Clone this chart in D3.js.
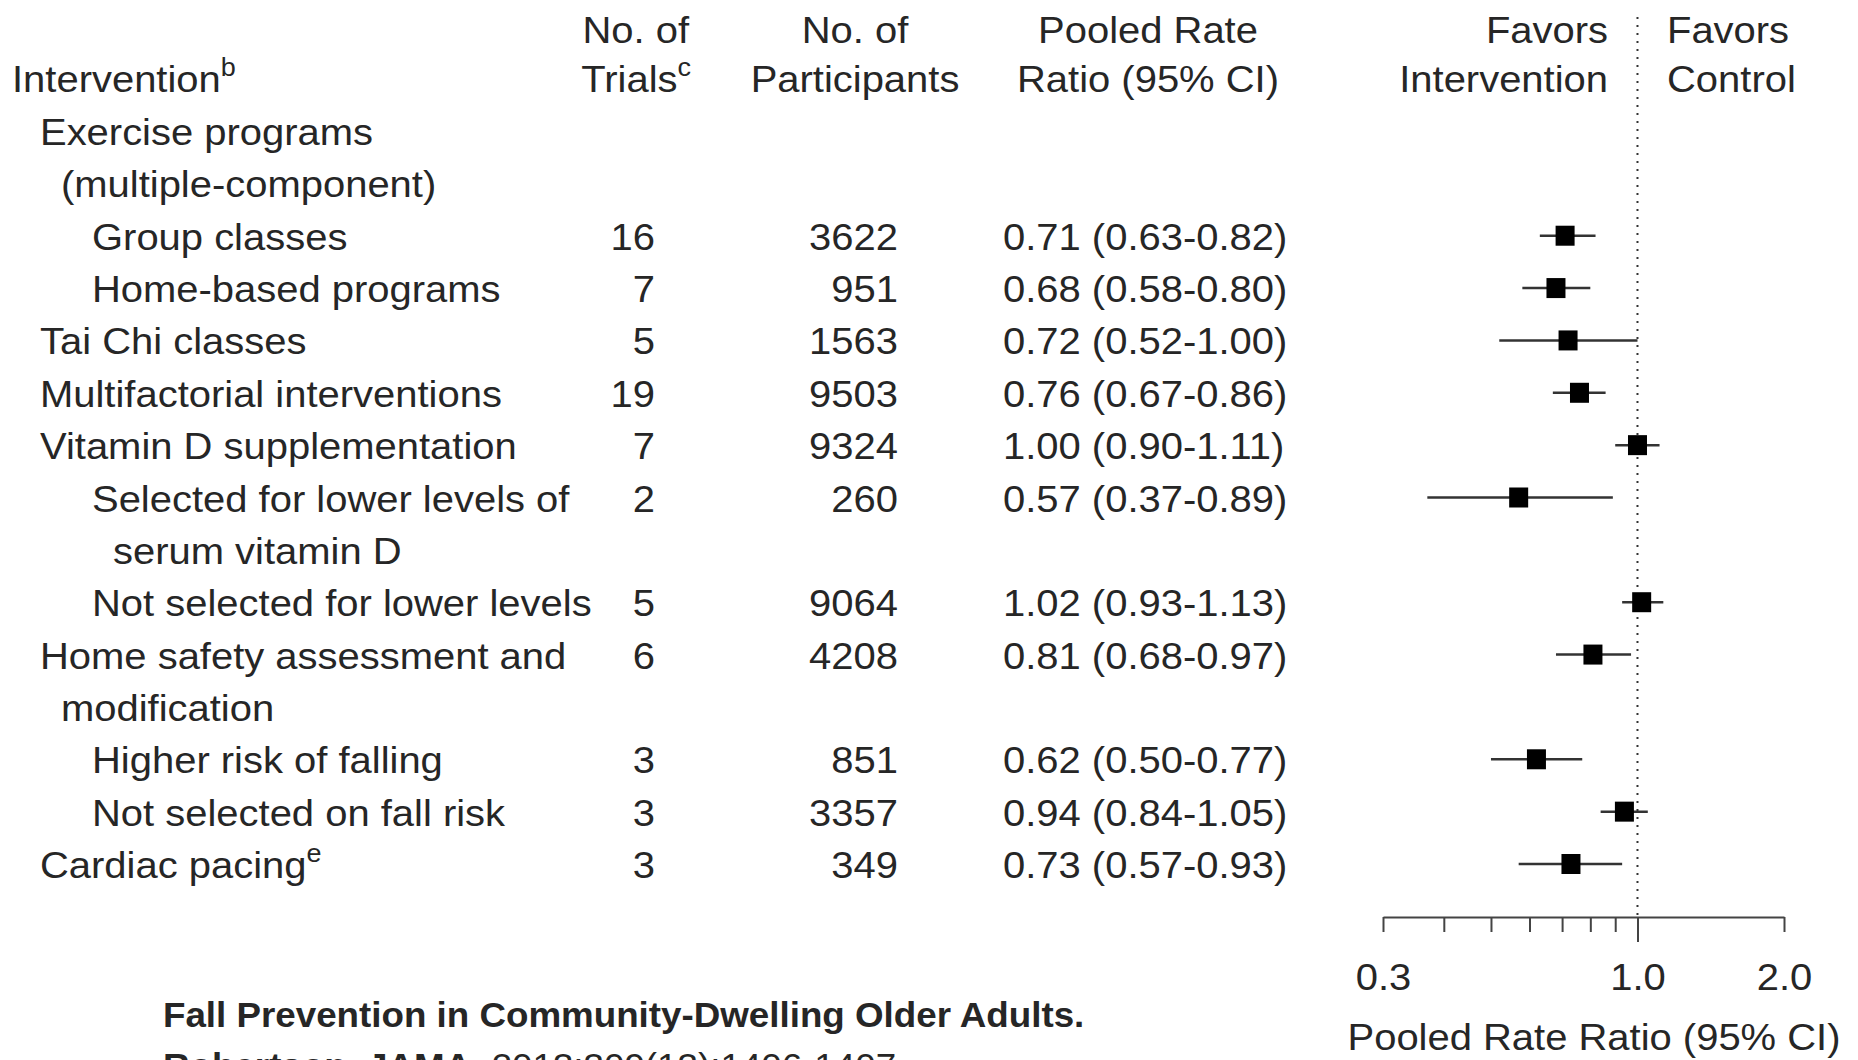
<!DOCTYPE html>
<html lang="en">
<head>
<meta charset="UTF-8">
<title>Fall prevention forest plot</title>
<style>
    html, body {
        margin: 0;
        padding: 0;
        background: #fff;
    }
    svg text {
        font-family: "Liberation Sans", Arial, Helvetica, sans-serif;
        fill: #262626;
    }
</style>
</head>
<body>
<svg id="plot" width="1858" height="1060"></svg>
<script src="https://cdnjs.cloudflare.com/ajax/libs/d3/7.8.5/d3.min.js"></script>
<script>
"use strict"

// rows of the table (a label may wrap on two lines)
const labels = [
    ["Exercise programs", "(multiple-component)"],
    ["Group classes"],
    ["Home-based programs"],
    ["Tai Chi classes"],
    ["Multifactorial interventions"],
    ["Vitamin D supplementation"],
    ["Selected for lower levels of", "serum vitamin D"],
    ["Not selected for lower levels"],
    ["Home safety assessment and", "modification"],
    ["Higher risk of falling"],
    ["Not selected on fall risk"],
    ["Cardiac pacing"]
];
const levels = [0, 1, 1, 0, 0, 0, 1, 1, 0, 1, 1, 0];
const footnotes = ["", "", "", "", "", "", "", "", "", "", "", "e"];
const trials = [null, 16, 7, 5, 19, 7, 2, 5, 6, 3, 3, 3];
const participants = [null, 3622, 951, 1563, 9503, 9324, 260, 9064, 4208, 851, 3357, 349];
const rate = [null, 0.71, 0.68, 0.72, 0.76, 1.00, 0.57, 1.02, 0.81, 0.62, 0.94, 0.73];
const lower = [null, 0.63, 0.58, 0.52, 0.67, 0.90, 0.37, 0.93, 0.68, 0.50, 0.84, 0.57];
const upper = [null, 0.82, 0.80, 1.00, 0.86, 1.11, 0.89, 1.13, 0.97, 0.77, 1.05, 0.93];

const tickValues = [0.3, 0.4, 0.5, 0.6, 0.7, 0.8, 0.9, 1.0, 2.0];
const tickLabels = ["0.3", "", "", "", "", "", "", "1.0", "2.0"];

const FS = 37;      // body font size
const SX = 1.08;    // the reference type is a bit wider than Arial

const svg = d3.select("#plot");

function txt(parent, x, y, s, anchor, size, sx) {
    return parent.append("text")
        .attr("transform", `translate(${x},${y}) scale(${sx || SX},1)`)
        .attr("text-anchor", anchor || "start")
        .attr("font-size", size || FS)
        .text(s);
}

function sup(t, s) {
    t.append("tspan").attr("font-size", 25).attr("dy", -16).text(s);
}

// line positions (baselines)
let lineNo = 0;
const rowLine = labels.map(l => {
    const start = lineNo;
    lineNo += l.length;
    return start;
});
const yLine = d3.scaleLinear().domain([0, 14]).range([145, 878]);

const x = d3.scaleLog().domain([0.3, 2.0]).range([1383, 1784]);

// headers
const head = svg.append("g");
sup(txt(head, 12, 92, "Intervention"), "b");
txt(head, 689, 43, "No. of", "end");
sup(txt(head, 691, 92, "Trials", "end"), "c");
txt(head, 855, 43, "No. of", "middle");
txt(head, 855, 92, "Participants", "middle");
txt(head, 1148, 43, "Pooled Rate", "middle");
txt(head, 1148, 92, "Ratio (95% CI)", "middle");
txt(head, 1608, 43, "Favors", "end");
txt(head, 1608, 92, "Intervention", "end");
txt(head, 1667, 43, "Favors");
txt(head, 1667, 92, "Control");

// table body
const body = svg.append("g");
labels.forEach((lines, i) => {
    const x0 = levels[i] === 0 ? 40 : 92;
    lines.forEach((s, k) => {
        const t = txt(body, k === 0 ? x0 : x0 + 21, yLine(rowLine[i] + k), s);
        if (k === 0 && footnotes[i]) sup(t, footnotes[i]);
    });
    if (trials[i] === null) return;
    const y = yLine(rowLine[i]);
    txt(body, 655, y, String(trials[i]), "end");
    txt(body, 898, y, String(participants[i]), "end");
    txt(body, 1003, y, `${rate[i].toFixed(2)} (${lower[i].toFixed(2)}-${upper[i].toFixed(2)})`);
});

// reference line at 1.0
svg.append("line")
    .attr("x1", x(1)).attr("x2", x(1))
    .attr("y1", 17).attr("y2", 917)
    .attr("stroke", "#333")
    .attr("stroke-width", 2)
    .attr("stroke-dasharray", "2,6");

// estimates
const idx = d3.range(labels.length).filter(i => rate[i] !== null);
const marks = svg.append("g");
marks.selectAll("line.ci")
    .data(idx)
    .enter()
    .append("line")
    .attr("class", "ci")
    .attr("x1", i => x(lower[i]))
    .attr("x2", i => x(upper[i]))
    .attr("y1", i => yLine(rowLine[i]) - 14)
    .attr("y2", i => yLine(rowLine[i]) - 14)
    .attr("stroke", "#333")
    .attr("stroke-width", 2.5);
marks.selectAll("rect")
    .data(idx)
    .enter()
    .append("rect")
    .attr("x", i => x(rate[i]) - 9.5)
    .attr("y", i => yLine(rowLine[i]) - 14 - 10)
    .attr("width", 19)
    .attr("height", 20)
    .attr("fill", "#000");

// axis
const axis = d3.axisBottom(x)
    .tickValues(tickValues)
    .tickSize(15)
    .tickSizeOuter(0)
    .tickFormat((d, i) => tickLabels[i]);
const gx = svg.append("g")
    .attr("transform", "translate(0,917)")
    .call(axis);
gx.attr("font-size", null).attr("font-family", null);
gx.select(".domain").attr("stroke", "#444").attr("stroke-width", 2);
gx.selectAll(".tick line")
    .attr("stroke", "#444")
    .attr("stroke-width", 2)
    .attr("y2", d => d === 1 ? 25 : 15);
gx.selectAll(".tick text")
    .attr("y", null)
    .attr("dy", null)
    .attr("transform", `translate(0,73) scale(${SX},1)`)
    .attr("font-size", FS)
    .attr("fill", "#262626");
txt(svg, 1594, 1050, "Pooled Rate Ratio (95% CI)", "middle");

// citation
const cite = svg.append("g").attr("font-weight", "bold");
txt(cite, 163, 1027, "Fall Prevention in Community-Dwelling Older Adults.", "start", 35, 1.05)
    .attr("fill", "#000");
const c2 = txt(cite, 163, 1078, "Robertson, JAMA.", "start", 35, 1.05).attr("fill", "#000");
c2.append("tspan").attr("font-weight", "normal").text(" 2013;309(13):1406-1407.");
</script>
</body>
</html>
